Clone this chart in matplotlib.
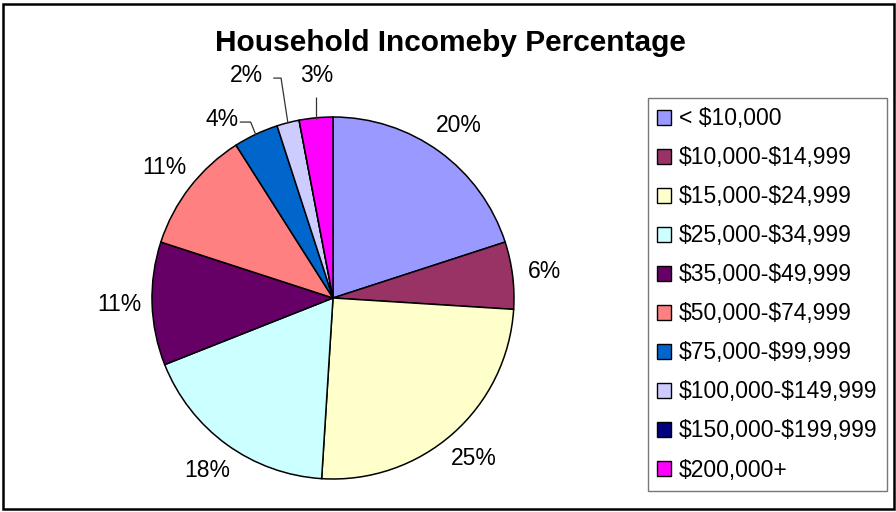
import matplotlib
matplotlib.use("Agg")
import matplotlib.pyplot as plt
from matplotlib.patches import Patch, Rectangle
import numpy as np

# Household income brackets and their share of households (%)
categories = [
    "< $10,000",
    "$10,000-$14,999",
    "$15,000-$24,999",
    "$25,000-$34,999",
    "$35,000-$49,999",
    "$50,000-$74,999",
    "$75,000-$99,999",
    "$100,000-$149,999",
    "$150,000-$199,999",
    "$200,000+",
]
shares = [20, 6, 25, 18, 11, 11, 4, 2, 0, 3]
colors = [
    "#9999FF", "#993366", "#FFFFCC", "#CCFFFF", "#660066",
    "#FF8080", "#0066CC", "#CCCCFF", "#000080", "#FF00FF",
]
title = "Household Incomeby Percentage"

plt.rcParams["font.family"] = ["Liberation Sans", "DejaVu Sans"]

W, H = 896, 512
fig = plt.figure(figsize=(W / 100, H / 100), dpi=100)
fig.patch.set_facecolor("white")

# pie occupies a square box centred at (cx, cy) in pixel coordinates
cx, cy, r = 333, 298, 181
ax = fig.add_axes([(cx - r) / W, (H - cy - r) / H, 2 * r / W, 2 * r / H])
wedges, _ = ax.pie(
    shares, colors=colors, startangle=90, counterclock=False, radius=1.0,
    wedgeprops=dict(edgecolor="black", linewidth=1.1),
)
ax.set_xlim(-1, 1)
ax.set_ylim(-1, 1)
ax.set_aspect("equal")
ax.axis("off")

label_fs = 16.5
# hand-placed labels with leader lines for the thin slices near the top
leader_labels = {
    6: dict(text=(-0.613, 0.985), knee=[(-0.515, 0.972), (-0.455, 0.972)]),
    7: dict(text=(-0.480, 1.230), knee=[(-0.330, 1.215), (-0.287, 1.215)]),
    9: dict(text=(-0.090, 1.230), knee=[(None, 1.11)]),
}

for i, (w, v) in enumerate(zip(wedges, shares)):
    if v == 0:
        continue
    mid = np.deg2rad((w.theta1 + w.theta2) / 2)
    ex, ey = np.cos(mid), np.sin(mid)
    label = f"{v:.0f}%"
    if i in leader_labels:
        spec = leader_labels[i]
        tx, ty = spec["text"]
        ax.text(tx, ty, label, ha="center", va="center", fontsize=label_fs,
                color="black", clip_on=False)
        pts = [(ex if px is None else px, py) for px, py in spec["knee"]]
        pts.append((ex, ey * 0.995))
        xs, ys = zip(*pts)
        ax.plot(xs, ys, color="#333333", lw=0.9, clip_on=False,
                solid_capstyle="butt")
    else:
        d = 1.18
        ax.text(d * ex, d * ey, label, ha="center", va="center",
                fontsize=label_fs, color="black", clip_on=False)

fig.text(450 / W, 1 - 51 / H, title, ha="center", va="baseline",
         fontsize=21.5, fontweight="bold", color="black")

handles = [Patch(facecolor=c, edgecolor="black", linewidth=1.0) for c in colors]
legend_labels = [c.replace("$", r"\$") for c in categories]
leg = fig.legend(
    handles, legend_labels, loc="upper left",
    bbox_to_anchor=(648 / W, 1 - 98 / H), bbox_transform=fig.transFigure,
    fontsize=label_fs, frameon=True, fancybox=False, shadow=False,
    handlelength=0.62, handleheight=0.62, handletextpad=0.33,
    labelspacing=0.70, borderpad=0.40, borderaxespad=0.0,
)
frame = leg.get_frame()
frame.set_edgecolor("#555555")
frame.set_linewidth(1.0)

# outer chart border
fig.add_artist(Rectangle((3 / W, 3 / H), 891 / W, 505 / H,
                         transform=fig.transFigure, fill=False,
                         edgecolor="black", linewidth=1.8))

fig.savefig("out.png", dpi=100, facecolor="white")
